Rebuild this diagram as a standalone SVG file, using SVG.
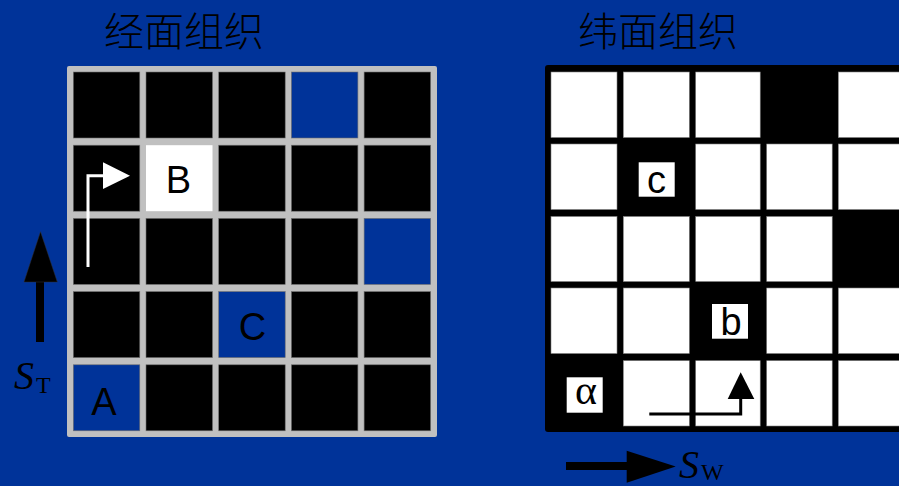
<svg xmlns="http://www.w3.org/2000/svg" width="899" height="486" viewBox="0 0 899 486">
<style>
.title{font-family:"Noto Sans CJK SC","Noto Sans CJK JP",sans-serif;font-size:40px;font-weight:300;fill:#000}
.lbl{font-family:"Liberation Sans",Arial,sans-serif;font-size:38px;fill:#000;text-anchor:middle}
.ser{font-family:"Liberation Serif","Times New Roman",serif;fill:#000}
.k{fill:#000;stroke:#707070;stroke-width:0.6}
.b{fill:#003399;stroke:#707070;stroke-width:0.6}
.w{fill:#fff;stroke:#808080;stroke-width:0.6}
</style>
<rect x="0" y="0" width="899" height="486" fill="#003399"/>
<text class="title" x="104" y="46" textLength="160">经面组织</text>
<text class="title" x="578" y="46" textLength="160">纬面组织</text>

<g id="warp-grid">
<rect x="67" y="66" width="370" height="371" rx="2" fill="#c0c0c0"/>
<rect class="k" x="73.3" y="72" width="66.5" height="66"/>
<rect class="k" x="146" y="72" width="66.5" height="66"/>
<rect class="k" x="218.7" y="72" width="66.5" height="66"/>
<rect class="b" x="291.4" y="72" width="66.5" height="66"/>
<rect class="k" x="364.1" y="72" width="66.5" height="66"/>
<rect class="k" x="73.3" y="145.2" width="66.5" height="66"/>
<rect class="k" x="218.7" y="145.2" width="66.5" height="66"/>
<rect class="k" x="291.4" y="145.2" width="66.5" height="66"/>
<rect class="k" x="364.1" y="145.2" width="66.5" height="66"/>
<rect class="k" x="73.3" y="218.4" width="66.5" height="66"/>
<rect class="k" x="146" y="218.4" width="66.5" height="66"/>
<rect class="k" x="218.7" y="218.4" width="66.5" height="66"/>
<rect class="k" x="291.4" y="218.4" width="66.5" height="66"/>
<rect class="b" x="364.1" y="218.4" width="66.5" height="66"/>
<rect class="k" x="73.3" y="291.6" width="66.5" height="66"/>
<rect class="k" x="146" y="291.6" width="66.5" height="66"/>
<rect class="k" x="291.4" y="291.6" width="66.5" height="66"/>
<rect class="k" x="364.1" y="291.6" width="66.5" height="66"/>
<rect class="k" x="146" y="364.8" width="66.5" height="66"/>
<rect class="k" x="218.7" y="364.8" width="66.5" height="66"/>
<rect class="k" x="291.4" y="364.8" width="66.5" height="66"/>
<rect class="k" x="364.1" y="364.8" width="66.5" height="66"/>
</g>
<g id="cell-B">
<rect x="146" y="145.2" width="66.5" height="66" fill="#fff"/>
<text class="lbl" x="178.5" y="193">B</text>
</g>
<g id="cell-C">
<rect class="b" x="218.7" y="291.6" width="66.5" height="66"/>
<text class="lbl" x="252.5" y="340">C</text>
</g>
<g id="cell-A">
<rect class="b" x="73.3" y="364.8" width="66.5" height="66"/>
<text class="lbl" x="104" y="415">A</text>
</g>

<g id="weft-grid">
<rect x="545" y="65" width="360" height="367" rx="3" fill="#000"/>
<rect class="w" x="551" y="72" width="66" height="65.5"/>
<rect class="w" x="623.3" y="72" width="66" height="65.5"/>
<rect class="w" x="695.7" y="72" width="64.5" height="65.5"/>
<rect class="w" x="838.3" y="72" width="70" height="65.5"/>
<rect class="w" x="551" y="144" width="66" height="65.5"/>
<rect class="w" x="695.7" y="144" width="64.5" height="65.5"/>
<rect class="w" x="766.7" y="144" width="65.5" height="65.5"/>
<rect class="w" x="838.3" y="144" width="70" height="65.5"/>
<rect class="w" x="551" y="216.5" width="66" height="65"/>
<rect class="w" x="623.3" y="216.5" width="66" height="65"/>
<rect class="w" x="695.7" y="216.5" width="64.5" height="65"/>
<rect class="w" x="766.7" y="216.5" width="65.5" height="65"/>
<rect class="w" x="551" y="288" width="66" height="65.5"/>
<rect class="w" x="623.3" y="288" width="66" height="65.5"/>
<rect class="w" x="766.7" y="288" width="65.5" height="65.5"/>
<rect class="w" x="838.3" y="288" width="70" height="65.5"/>
<rect class="w" x="623.3" y="360.7" width="66" height="65.3"/>
<rect class="w" x="695.7" y="360.7" width="64.5" height="65.3"/>
<rect class="w" x="766.7" y="360.7" width="65.5" height="65.3"/>
<rect class="w" x="838.3" y="360.7" width="70" height="65.3"/>
</g>
<g id="cell-c">
<rect x="638.7" y="162.3" width="36" height="34.4" fill="#fff"/>
<text class="lbl" x="656.5" y="193">c</text>
</g>
<g id="cell-b">
<rect x="712" y="304" width="36" height="34.7" fill="#fff"/>
<text class="lbl" x="731" y="335">b</text>
</g>
<g id="cell-alpha">
<rect x="566.7" y="377.3" width="36" height="35.4" fill="#fff"/>
<text class="ser" x="586" y="404" font-size="42" text-anchor="middle">α</text>
</g>

<g id="connectors">
<polyline points="88,267 88,175.7 104,175.7" fill="none" stroke="#fff" stroke-width="3"/>
<polygon points="103,162.3 130,175.7 103,189" fill="#fff"/>
<polyline points="649.3,414 740.7,414 740.7,398" fill="none" stroke="#000" stroke-width="3"/>
<polygon points="740.7,372.3 754.3,399 727.7,399" fill="#000"/>
<line x1="40" y1="342" x2="40" y2="280" stroke="#000" stroke-width="8"/>
<polygon points="40.5,231.7 57.3,282 24,282" fill="#000" stroke="#333" stroke-width="0.5"/>
<line x1="566" y1="466" x2="628" y2="466" stroke="#000" stroke-width="8"/>
<polygon points="626.7,450.7 675.7,466.5 626.7,482.7" fill="#000"/>
</g>
<g id="label-ST">
<text class="ser" x="14" y="389" font-size="40" font-style="italic">S</text>
<text class="ser" x="36" y="393" font-size="24">T</text>
</g>
<g id="label-SW">
<text class="ser" x="679" y="478" font-size="40" font-style="italic">S</text>
<text class="ser" x="701" y="480" font-size="24">W</text>
</g>
</svg>
